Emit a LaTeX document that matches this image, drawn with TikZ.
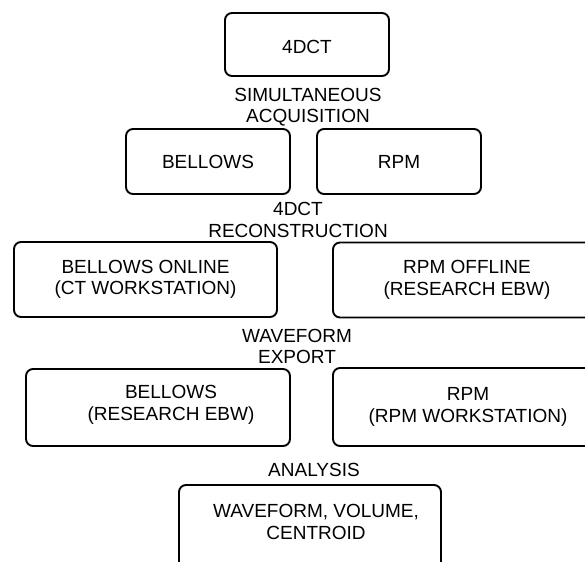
\documentclass[tikz,border=0pt]{standalone}
\usepackage{fontspec}
\setmainfont{Liberation Sans}
\begin{document}
\begin{tikzpicture}[x=1pt,y=-1pt,
  box/.style={draw, line width=1.9pt, rounded corners=7pt, align=center, inner sep=0pt,
    font=\fontsize{19}{21.5}\selectfont},
  lbl/.style={align=center, inner sep=0pt, font=\fontsize{19}{21.5}\selectfont}]
\useasboundingbox (0,0) rectangle (585,561);
\clip (0,0) rectangle (585,561);
% boxes
\node[box, minimum width=164pt, minimum height=63pt] (a) at (307,44.5) {};
\node[lbl] (at) at (307,47) {4DCT};
\node[box, minimum width=164pt, minimum height=65pt] (b) at (208,161.5) {BELLOWS};
\node[box, minimum width=164pt, minimum height=65pt] (c) at (399,161.5) {RPM};
\node[box, minimum width=263pt, minimum height=75pt] (d) at (145.5,279.5) {BELLOWS ONLINE\\(CT WORKSTATION)};
\node[box, minimum width=268pt, minimum height=75pt] (e) at (467,280) {RPM OFFLINE\\(RESEARCH EBW)};
\node[box, minimum width=264pt, minimum height=77pt] (f) at (158,407.5) {};
\node[lbl, font=\fontsize{19}{22.5}\selectfont] (ft) at (171,405) {BELLOWS\\(RESEARCH EBW)};
\node[box, minimum width=270pt, minimum height=78pt] (g) at (468,407) {RPM\\(RPM WORKSTATION)};
\node[box, minimum width=262pt, minimum height=90pt] (h) at (310,530) {};
\node[lbl] (ht) at (316,522) {WAVEFORM, VOLUME,\\CENTROID};
% labels
\node[lbl] (l1) at (308,107) {SIMULTANEOUS\\ACQUISITION};
\node[lbl] (l2) at (298,220) {4DCT\\RECONSTRUCTION};
\node[lbl] (l3) at (297,346.5) {WAVEFORM\\EXPORT};
\node[lbl] (l4) at (314,470) {ANALYSIS};
\end{tikzpicture}
\end{document}
